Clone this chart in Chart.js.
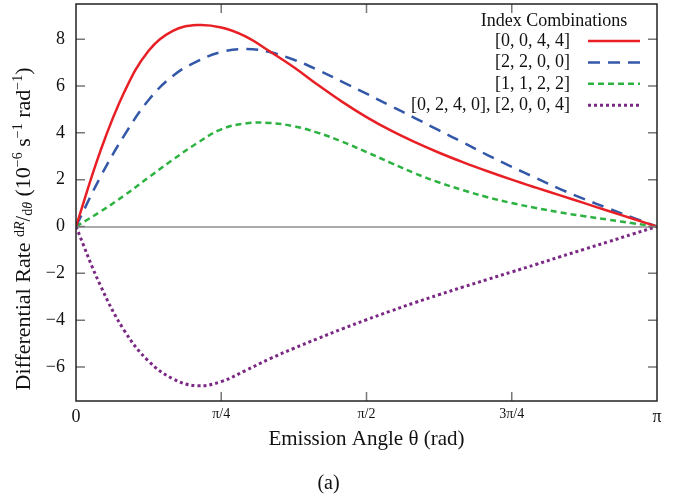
<!DOCTYPE html>
<html>
<head>
<meta charset="utf-8">
<script src="https://cdn.jsdelivr.net/npm/chart.js@4.4.1/dist/chart.umd.min.js"></script>
<style>
  html, body { margin: 0; padding: 0; background: #fff; }
  #wrap { width: 682px; height: 500px; }
</style>
</head>
<body>
<div id="wrap"><canvas id="chart" width="682" height="500"></canvas></div>
<script>
// emission angle samples, in degrees (axis runs 0..180 = 0..pi)
const angleDeg = [0, 7.5, 15, 22.5, 30, 37.5, 45, 52.5, 60, 67.5, 75, 82.5, 90, 97.5, 105, 112.5, 120, 127.5, 135, 142.5, 150, 157.5, 165, 172.5, 180];

// differential rate, 10^-6 s^-1 rad^-1
const rate0044 = [0, 3.2, 5.75, 7.5, 8.35, 8.6, 8.5, 8.12, 7.48, 6.8, 6.04, 5.32, 4.67, 4.1, 3.6, 3.15, 2.74, 2.36, 2.0, 1.66, 1.33, 1.0, 0.66, 0.33, 0];
const rate2200 = [0, 2.1, 3.9, 5.4, 6.43, 7.05, 7.45, 7.58, 7.45, 7.12, 6.68, 6.18, 5.67, 5.15, 4.63, 4.1, 3.58, 3.05, 2.55, 2.07, 1.6, 1.17, 0.77, 0.38, 0];
const rate1122 = [0, 0.63, 1.33, 2.1, 2.85, 3.56, 4.15, 4.4, 4.42, 4.28, 4.0, 3.62, 3.18, 2.72, 2.27, 1.88, 1.55, 1.25, 1.0, 0.79, 0.6, 0.44, 0.29, 0.14, 0];
const rate0240 = [0, -2.5, -4.45, -5.75, -6.5, -6.8, -6.62, -6.15, -5.65, -5.2, -4.78, -4.37, -3.98, -3.61, -3.25, -2.91, -2.58, -2.26, -1.94, -1.62, -1.29, -0.97, -0.65, -0.32, 0];

const seriesLabels = ["[0, 0, 4, 4]", "[2, 2, 0, 0]", "[1, 1, 2, 2]", "[0, 2, 4, 0], [2, 0, 0, 4]"];

const xTickValues = [0, 45, 90, 135, 180];
const xTickLabels = ["0", "π/4", "π/2", "3π/4", "π"];
const yTickValues = [-6, -4, -2, 0, 2, 4, 6, 8];
const yTickLabels = ["−6", "−4", "−2", "0", "2", "4", "6", "8"];

const SERIF = "'Liberation Serif', 'Times New Roman', serif";

const toPoints = (vals) => vals.map((v, i) => ({ x: angleDeg[i], y: v }));

// frame, inner tick marks, legend box and the y title
const decorations = {
  id: "decorations",
  afterDatasetsDraw(chart) {
    const { ctx, chartArea: a, scales } = chart;
    const x = scales.x, y = scales.y;
    ctx.save();

    ctx.strokeStyle = "#777";
    ctx.lineWidth = 1.5;
    ctx.beginPath();
    yTickValues.forEach((v) => {
      const py = y.getPixelForValue(v);
      ctx.moveTo(a.left, py); ctx.lineTo(a.left + 9, py);
      ctx.moveTo(a.right, py); ctx.lineTo(a.right - 9, py);
    });
    xTickValues.slice(1, -1).forEach((v) => {
      const px = x.getPixelForValue(v);
      ctx.moveTo(px, a.bottom); ctx.lineTo(px, a.bottom - 9);
      ctx.moveTo(px, a.top); ctx.lineTo(px, a.top + 9);
    });
    ctx.stroke();

    ctx.strokeStyle = "#222";
    ctx.lineWidth = 1.5;
    ctx.strokeRect(a.left, a.top, a.right - a.left, a.bottom - a.top);

    // legend
    ctx.fillStyle = "#111";
    ctx.font = "18px " + SERIF;
    ctx.textBaseline = "middle";
    ctx.textAlign = "center";
    ctx.fillText("Index Combinations", 554, 21);
    ctx.textAlign = "right";
    chart.data.datasets.forEach((ds, i) => {
      const ry = 41 + i * 21.4;
      ctx.fillText(ds.label, 570, ry);
      ctx.save();
      ctx.strokeStyle = ds.borderColor;
      ctx.lineWidth = ds.borderWidth;
      ctx.setLineDash(ds.borderDash || []);
      ctx.beginPath();
      ctx.moveTo(588, ry);
      ctx.lineTo(640, ry);
      ctx.stroke();
      ctx.restore();
    });

    // y axis title, rotated
    const parts = [
      { t: "Differential Rate ", s: 22, dy: 0 },
      { t: "d", s: 14, dy: -6 },
      { t: "R", s: 14, dy: -6, it: true },
      { t: "/", s: 20, dy: 0 },
      { t: "d", s: 14, dy: 2 },
      { t: "θ", s: 14, dy: 2, it: true },
      { t: " (10", s: 22, dy: 0 },
      { t: "−6", s: 14, dy: -8 },
      { t: " s", s: 22, dy: 0 },
      { t: "−1", s: 14, dy: -8 },
      { t: " rad", s: 22, dy: 0 },
      { t: "−1", s: 14, dy: -8 },
      { t: ")", s: 22, dy: 0 }
    ];
    const fontOf = (p) => (p.it ? "italic " : "") + p.s + "px " + SERIF;
    let total = 0;
    parts.forEach((p) => { ctx.font = fontOf(p); p.w = ctx.measureText(p.t).width; total += p.w; });
    ctx.translate(30, 229);
    ctx.rotate(-Math.PI / 2);
    ctx.textAlign = "left";
    ctx.textBaseline = "alphabetic";
    let cx = -total / 2;
    parts.forEach((p) => {
      ctx.font = fontOf(p);
      ctx.fillText(p.t, cx, p.dy);
      cx += p.w;
    });
    ctx.restore();
  }
};

new Chart(document.getElementById("chart"), {
  type: "line",
  data: {
    datasets: [
      {
        label: seriesLabels[0],
        data: toPoints(rate0044),
        borderColor: "rgb(232, 32, 38)",
        borderWidth: 2.5
      },
      {
        label: seriesLabels[1],
        data: toPoints(rate2200),
        borderColor: "rgb(52, 88, 168)",
        borderWidth: 2.5,
        borderDash: [12, 8]
      },
      {
        label: seriesLabels[2],
        data: toPoints(rate1122),
        borderColor: "rgb(44, 178, 64)",
        borderWidth: 2.5,
        borderDash: [6, 4]
      },
      {
        label: seriesLabels[3],
        data: toPoints(rate0240),
        borderColor: "rgb(122, 40, 132)",
        borderWidth: 3,
        borderDash: [3, 3]
      }
    ]
  },
  options: {
    responsive: false,
    animation: false,
    devicePixelRatio: 1,
    layout: { padding: { left: 0, right: 25, top: 4, bottom: 0 } },
    elements: {
      point: { radius: 0 },
      line: { tension: 0.4, fill: false }
    },
    plugins: {
      legend: { display: false },
      tooltip: { enabled: false },
      title: {
        display: true,
        position: "bottom",
        text: "(a)",
        color: "#111",
        font: { family: SERIF, size: 20, weight: "normal" },
        padding: { top: 0, bottom: 4 }
      }
    },
    scales: {
      x: {
        type: "linear",
        min: 0,
        max: 180,
        afterBuildTicks: (scale) => { scale.ticks = xTickValues.map((v) => ({ value: v })); },
        afterFit: (scale) => { scale.height = 71; scale.paddingLeft = 0; scale.paddingRight = 0; },
        grid: { display: false, drawTicks: false },
        border: { display: false },
        ticks: {
          padding: 5,
          color: "#111",
          maxRotation: 0,
          font: (c) => ({ family: SERIF, size: (c.index === 0 || c.index === 4) ? 18 : 14 }),
          callback: (v, i) => xTickLabels[i]
        },
        title: {
          display: true,
          text: "Emission Angle θ (rad)",
          color: "#111",
          font: { family: SERIF, size: 21 },
          padding: { top: 20, bottom: 20 }
        }
      },
      y: {
        min: -7.45,
        max: 9.5,
        afterBuildTicks: (scale) => { scale.ticks = yTickValues.map((v) => ({ value: v })); },
        afterFit: (scale) => { scale.width = 76; scale.paddingTop = 0; scale.paddingBottom = 0; },
        grid: {
          drawTicks: false,
          lineWidth: 2,
          color: (c) => (c.tick && c.tick.value === 0 ? "#aaa" : "rgba(0,0,0,0)")
        },
        border: { display: false },
        ticks: {
          padding: 11,
          color: "#111",
          font: { family: SERIF, size: 18 },
          callback: (v, i) => yTickLabels[i]
        }
      }
    }
  },
  plugins: [decorations]
});
</script>
</body>
</html>
